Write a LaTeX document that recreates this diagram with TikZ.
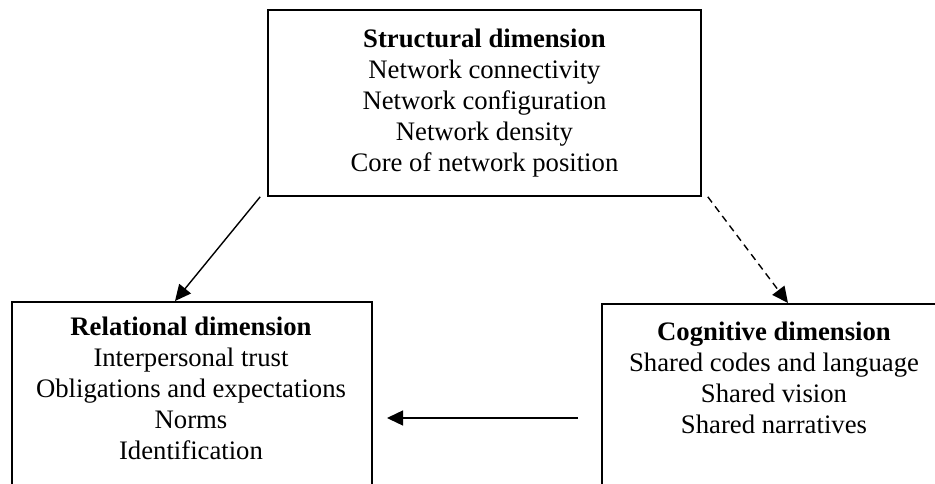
\documentclass[tikz,border=0pt]{standalone}
\usepackage{fontspec}
\setmainfont{Liberation Serif}
\usetikzlibrary{arrows.meta,positioning}
\tikzset{
  boxst/.style={draw, line width=1.6pt, inner sep=0pt},
  txt/.style={align=center, inner sep=0pt, font=\fontsize{26.7}{31}\selectfont},
  arr/.style={line width=1.4pt, -{Triangle[length=16pt,width=15pt]}},
  darr/.style={arr, dash pattern=on 7pt off 5pt}
}
\begin{document}
\begin{tikzpicture}[x=1pt,y=-1pt]
\useasboundingbox (0,0) rectangle (935,484);
\clip (0,0) rectangle (935,484);
% top box
\node[boxst, txt, minimum width=433pt, minimum height=186pt] (top) at (484.5,103)
  {\textbf{Structural dimension}\\Network connectivity\\Network configuration\\Network density\\Core of network position};
% relational box
\node[boxst, minimum width=360pt, minimum height=240pt, anchor=north] (rel) at (192,301) {};
\node[txt, anchor=north] (reltxt) at (191,317)
  {\textbf{Relational dimension}\\Interpersonal trust\\Obligations and expectations\\Norms\\Identification};
% cognitive box
\node[boxst, minimum width=344pt, minimum height=240pt, anchor=north] (cog) at (774,303) {};
\node[txt, anchor=north] (cogtxt) at (774,322)
  {\textbf{Cognitive dimension}\\Shared codes and language\\Shared vision\\Shared narratives};
% arrows
\coordinate (a1s) at ([xshift=-7pt]top.south west);
\coordinate (a1e) at ([xshift=-17pt]rel.north);
\draw[arr] (a1s) -- (a1e);
\coordinate (a2s) at ([xshift=6pt]top.south east);
\coordinate (a2e) at ([xshift=14pt]cog.north);
\draw[darr] (a2s) -- (a2e);
\coordinate (a3s) at (578,418);
\coordinate (a3e) at (387,418);
\draw[arr] (a3s) -- (a3e);
\end{tikzpicture}
\end{document}
